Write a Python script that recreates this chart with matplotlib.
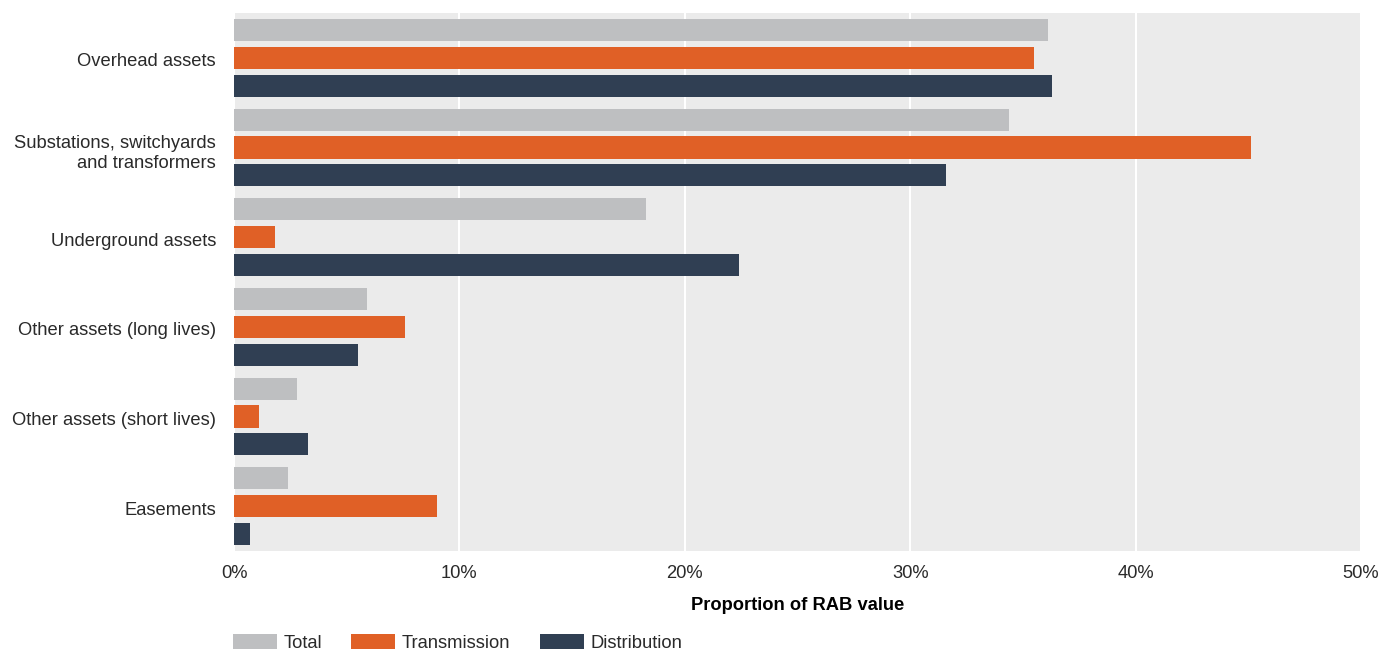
import matplotlib
matplotlib.use("Agg")
import matplotlib.pyplot as plt
import matplotlib.transforms as mtransforms
import numpy as np
from matplotlib.patches import Patch

# categories (top to bottom) and the three series, in % of RAB value
categories = [
    "Overhead assets",
    "Substations, switchyards\nand transformers",
    "Underground assets",
    "Other assets (long lives)",
    "Other assets (short lives)",
    "Easements",
]
total = [36.1, 34.4, 18.3, 5.9, 2.8, 2.4]
transmission = [35.5, 45.1, 1.8, 7.6, 1.1, 9.0]
distribution = [36.3, 31.6, 22.4, 5.5, 3.3, 0.7]

series_names = ["Total", "Transmission", "Distribution"]
colors = ["#bebfc1", "#e06026", "#303f53"]

fs = 13.2
plt.rcParams["font.family"] = ["Liberation Sans", "DejaVu Sans"]
plt.rcParams["font.size"] = fs
plt.rcParams["text.color"] = "#2a2a2a"

fig = plt.figure(figsize=(13.83, 6.5), dpi=100)
ax = fig.add_axes([234 / 1383, 1 - 551 / 650, (1361 - 234) / 1383, (551 - 13) / 650])
ax.set_facecolor("#ebebeb")

y = np.arange(len(categories))
pitch = 0.31
height = 0.248
for i, (vals, col) in enumerate(zip([total, transmission, distribution], colors)):
    ax.barh(y + (i - 1) * pitch, vals, height=height, color=col, zorder=3)

ax.set_ylim(len(categories) - 0.5, -0.5)
ax.set_xlim(0, 50)
ax.set_xticks(np.arange(0, 51, 10))
ax.set_xticklabels([f"{v}%" for v in range(0, 51, 10)])
ax.set_yticks(y)
ax.set_yticklabels(categories, ha="right", linespacing=1.3)
ax.tick_params(axis="both", length=0, labelsize=fs, labelcolor="#2a2a2a")
ax.tick_params(axis="x", pad=10)
ax.tick_params(axis="y", pad=13)
ax.grid(axis="x", color="white", linewidth=1.5, zorder=1)
for s in ax.spines.values():
    s.set_visible(False)

# nudge category labels down a little
shift = mtransforms.ScaledTranslation(0, -2 / 100, fig.dpi_scale_trans)
for lbl in ax.get_yticklabels():
    lbl.set_transform(lbl.get_transform() + shift)

ax.set_xlabel("Proportion of RAB value", fontweight="bold", labelpad=11, fontsize=fs)

handles = [Patch(facecolor=c, label=n) for c, n in zip(colors, series_names)]
fig.legend(handles=handles, loc="upper left", bbox_to_anchor=(233 / 1383, 1 - 634 / 650),
           ncol=3, frameon=False, borderpad=0, borderaxespad=0,
           handlelength=2.4, handleheight=0.9, handletextpad=0.35,
           columnspacing=1.6, fontsize=fs)

fig.savefig("out.png", dpi=100)
